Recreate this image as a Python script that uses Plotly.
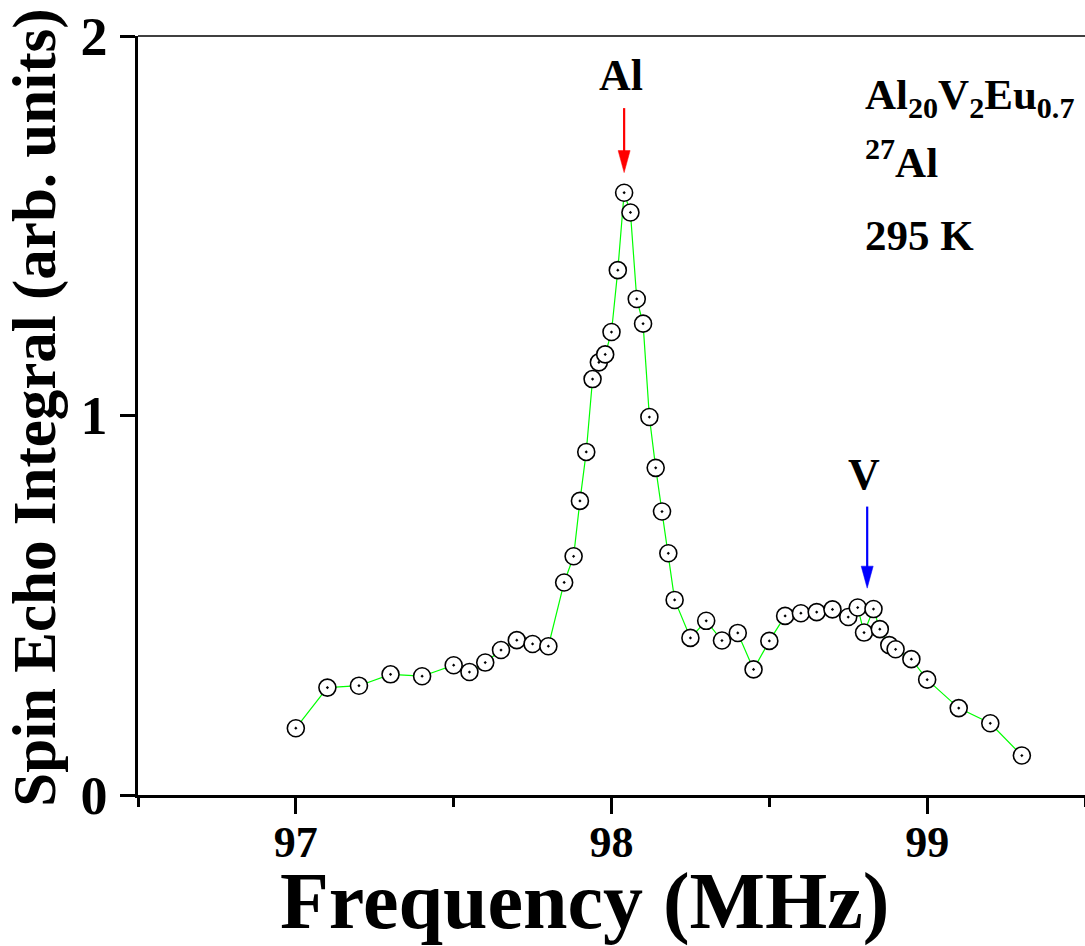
import plotly.graph_objects as go

# ---- data ----
freq_mhz = [97.00, 97.10, 97.20, 97.30, 97.40, 97.50, 97.55, 97.60, 97.65, 97.70,
            97.75, 97.80, 97.85, 97.88, 97.90, 97.92, 97.94, 97.96, 97.98, 98.00,
            98.02, 98.04, 98.06, 98.08, 98.10, 98.12, 98.14, 98.16, 98.18, 98.20,
            98.25, 98.30, 98.35, 98.40, 98.45, 98.50, 98.55, 98.60, 98.65, 98.70,
            98.75, 98.78, 98.80, 98.83, 98.85, 98.88, 98.90, 98.95, 99.00, 99.10,
            99.20, 99.30]
echo_integral = [0.176, 0.283, 0.288, 0.318, 0.313, 0.342, 0.324, 0.349, 0.382, 0.408,
                 0.398, 0.392, 0.560, 0.629, 0.775, 0.904, 1.096, 1.140, 1.161, 1.220,
                 1.383, 1.587, 1.535, 1.307, 1.242, 0.996, 0.862, 0.747, 0.637, 0.514,
                 0.414, 0.459, 0.407, 0.427, 0.331, 0.406, 0.472, 0.479, 0.482, 0.489,
                 0.469, 0.494, 0.428, 0.490, 0.437, 0.395, 0.384, 0.358, 0.304, 0.229,
                 0.189, 0.104]

x_major_ticks = [97, 98, 99]
x_minor_ticks = [96.5, 97.5, 98.5, 99.5]
y_major_ticks = [0, 1, 2]

# peak markers: (label, x, arrow tail y, arrow tip y, colour)
peak_labels = ["Al", "V"]
peak_x = [98.04, 98.81]
peak_tail = [1.81, 0.76]
peak_tip = [1.64, 0.545]
peak_colors = ["#ff0000", "#0000ff"]

FONT = "Liberation Serif"

fig = go.Figure()
fig.add_trace(go.Scatter(
    x=freq_mhz, y=echo_integral, mode="lines+markers",
    line=dict(color="#00ff00", width=1.2),
    marker=dict(symbol="circle-dot", size=17, color="white",
                line=dict(color="black", width=1.6)),
    showlegend=False, hoverinfo="x+y",
))

axis_common = dict(showgrid=False, zeroline=False, showline=True,
                   linecolor="black", linewidth=2.5, ticks="outside",
                   tickcolor="black", tickwidth=2.5)

fig.update_xaxes(range=[96.5, 99.5], tickvals=x_major_ticks,
                 ticktext=[str(v) for v in x_major_ticks], ticklen=16,
                 tickfont=dict(family=FONT, size=44, color="black", weight="bold"),
                 minor=dict(tickvals=x_minor_ticks, ticklen=9, tickwidth=2.5,
                            tickcolor="black", ticks="outside"),
                 ticklabelstandoff=-10,
                 **axis_common)
fig.update_yaxes(range=[0, 2], tickvals=y_major_ticks,
                 ticktext=[str(v) for v in y_major_ticks], ticklen=15,
                 tickfont=dict(family=FONT, size=54, color="black", weight="bold"),
                 ticklabelstandoff=2,
                 **axis_common)

shapes = [dict(type="line", xref="paper", yref="paper", x0=0, x1=1, y0=1, y1=1,
               line=dict(color="black", width=1.3))]
annotations = []
head_len = 0.058
head_hw = 0.019
for lab, x, tail, tip, col in zip(peak_labels, peak_x, peak_tail, peak_tip, peak_colors):
    shapes.append(dict(type="line", xref="x", yref="y", x0=x, x1=x, y0=tail,
                       y1=tip + head_len * 0.5, line=dict(color=col, width=2.2)))
    shapes.append(dict(type="path", xref="x", yref="y",
                       path=f"M {x-head_hw},{tip+head_len} L {x+head_hw},{tip+head_len} L {x},{tip} Z",
                       fillcolor=col, line=dict(color=col, width=0.5)))
    annotations.append(dict(x=x - 0.01, y=tail + 0.085, xref="x", yref="y",
                            text=lab, showarrow=False, xanchor="center", yanchor="middle",
                            font=dict(family=FONT, size=44, color="black", weight="bold")))

info_lines = ["Al<sub>20</sub>V<sub>2</sub>Eu<sub>0.7</sub>", "<sup>27</sup>Al", "295 K"]
info_y = [0.918, 0.838, 0.737]
for txt, yy in zip(info_lines, info_y):
    annotations.append(dict(x=0.7657, y=yy, xref="paper", yref="paper", text=txt,
                            showarrow=False, xanchor="left", yanchor="middle",
                            font=dict(family=FONT, size=43, color="black", weight="bold")))

annotations.append(dict(x=0.472, y=-0.140, xref="paper", yref="paper",
                        text="Frequency (MHz)", showarrow=False,
                        xanchor="center", yanchor="middle",
                        font=dict(family=FONT, size=80, color="black", weight="bold")))
annotations.append(dict(x=-0.109, y=0.51, xref="paper", yref="paper",
                        text="Spin Echo Integral (arb. units)", showarrow=False,
                        textangle=-90, xanchor="center", yanchor="middle",
                        font=dict(family=FONT, size=61, color="black", weight="bold")))

fig.update_layout(width=1085, height=946, margin=dict(l=138, r=0, t=36, b=151),
                  paper_bgcolor="white", plot_bgcolor="white",
                  shapes=shapes, annotations=annotations)

fig.write_html("out.html", config={"displayModeBar": False},
               post_script="document.body.style.margin='0';document.body.style.overflow='hidden';")
